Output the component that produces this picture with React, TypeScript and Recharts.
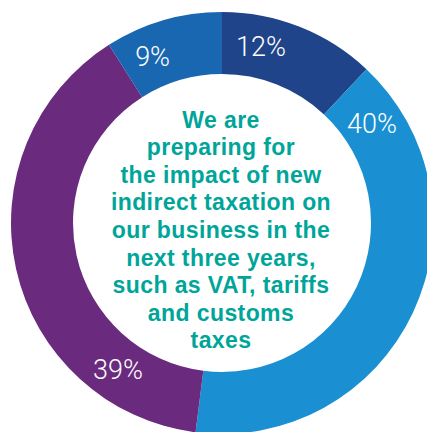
import React from "react";
import { PieChart, Pie, Cell, Label } from "recharts";

const categories = ["Strongly agree", "Agree", "Disagree", "Strongly disagree"];
const values = [12, 40, 39, 9];
const valueLabels = ["12%", "40%", "39%", "9%"];
const colors = ["#20448A", "#1A90D2", "#6A2A7E", "#1A67B1"];
const centerLines = [
  "We are",
  "preparing for",
  "the impact of new",
  "indirect taxation on",
  "our business in the",
  "next three years,",
  "such as VAT, tariffs",
  "and customs",
  "taxes",
];

const data = categories.map((name, i) => ({ name, value: values[i], label: valueLabels[i] }));

// fraction of each slice's sweep at which its label sits
const labelFraction = [0.29, 0.092, 0.2, 0.3];
const RAD = Math.PI / 180;

const renderLabel = (props: any) => {
  const { cx, cy, startAngle, endAngle, index } = props;
  const a = startAngle + (endAngle - startAngle) * labelFraction[index];
  const r = 180;
  const x = cx + r * Math.cos(-a * RAD);
  const y = cy + r * Math.sin(-a * RAD);
  return (
    <text
      x={x}
      y={y}
      fill="#ffffff"
      textAnchor="middle"
      dominantBaseline="central"
      fontFamily="Roboto, 'Liberation Sans', sans-serif"
      fontWeight={300}
      fontSize={27}
    >
      {data[index].label}
    </text>
  );
};

const CenterText = (props: any) => {
  const vb = props.viewBox || {};
  const cx = vb.cx ?? 222;
  const cy = vb.cy ?? 223;
  const lh = 27.6;
  const top = cy + 7 - ((centerLines.length - 1) * lh) / 2;
  return (
    <g>
      {centerLines.map((l, i) => (
        <text
          key={i}
          x={cx - 1}
          y={top + i * lh}
          dominantBaseline="central"
          textAnchor="middle"
          fill="#00A59A"
          fontFamily="'Liberation Sans', Arial, sans-serif"
          fontWeight={700}
          fontSize={23}
          letterSpacing={0.4}
        >
          {l}
        </text>
      ))}
    </g>
  );
};

export default function App() {
  return (
    <div style={{ position: "absolute", left: 0, top: 0, width: 427, height: 432, background: "#fff" }}>
      <PieChart width={427} height={432} margin={{ top: 0, right: 0, bottom: 0, left: 0 }}>
        <Pie
          data={data}
          dataKey="value"
          nameKey="name"
          cx={222}
          cy={223}
          innerRadius={149}
          outerRadius={211}
          startAngle={90}
          endAngle={-270}
          stroke="none"
          label={renderLabel}
          labelLine={false}
          isAnimationActive={false}
        >
          {data.map((d, i) => (
            <Cell key={d.name} fill={colors[i]} />
          ))}
          <Label position="center" content={<CenterText />} />
        </Pie>
      </PieChart>
    </div>
  );
}
